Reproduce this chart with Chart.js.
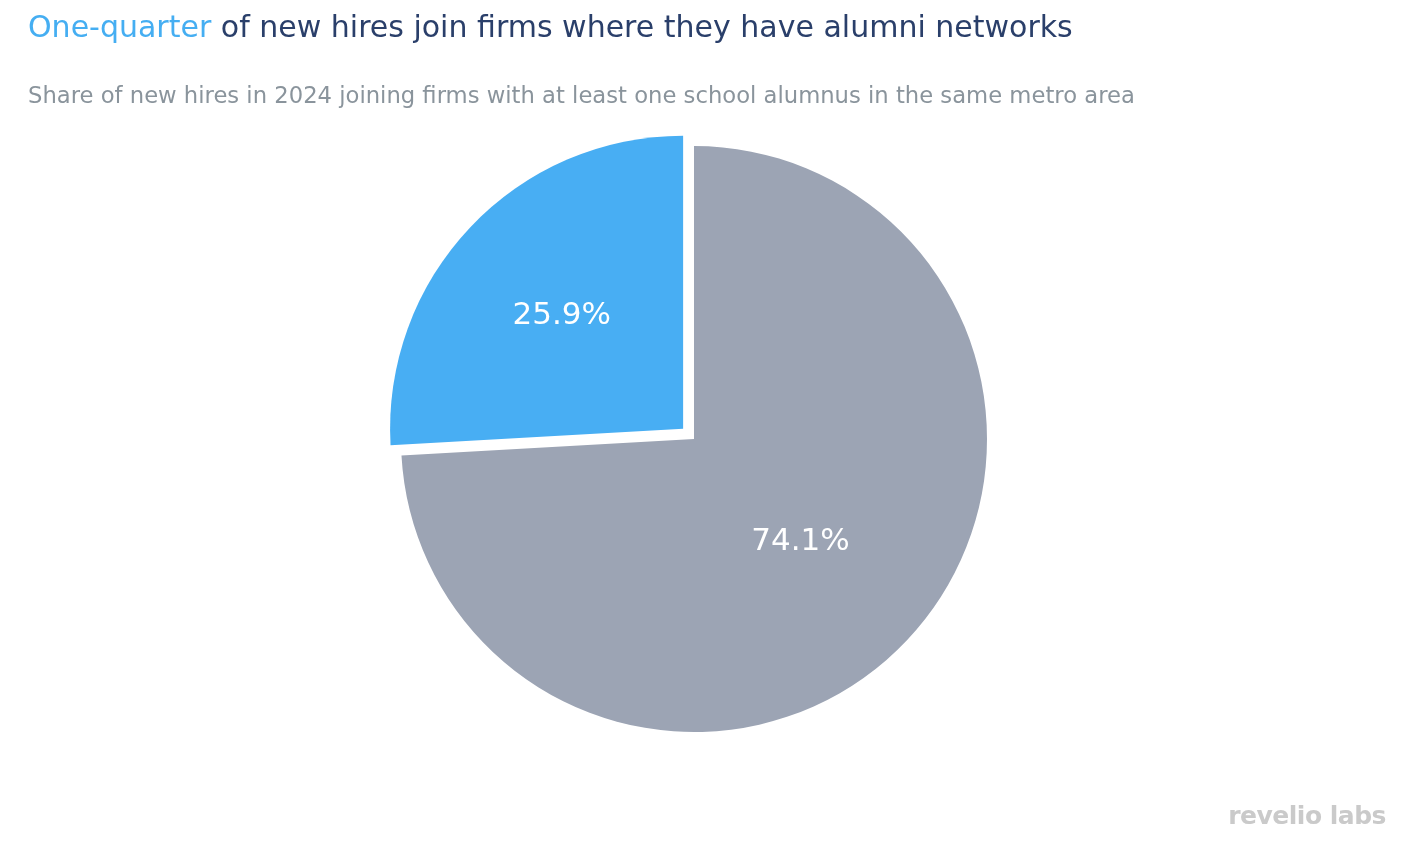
<!DOCTYPE html>
<html>
<head>
<meta charset="utf-8">
<script src="https://cdn.jsdelivr.net/npm/chart.js@4"></script>
<style>
  body { margin: 0; background: #fff; font-family: "DejaVu Sans", sans-serif; }
  #wrap { position: relative; width: 1414px; height: 868px; }
  #title { position: absolute; left: 28px; top: 9px; font-size: 30px; line-height: 35px; color: #2a3f6a; white-space: nowrap; }
  #title .hl { color: #45aef2; }
  #subtitle { position: absolute; left: 28px; top: 82px; font-size: 22.7px; line-height: 27px; color: #8a949c; white-space: nowrap; }
  #logo { position: absolute; right: 28px; bottom: 38px; font-family: "DejaVu Sans", sans-serif; font-weight: bold; font-size: 25px; color: #cacaca; letter-spacing: -0.5px; }
  canvas { position: absolute; left: 0; top: 0; }
</style>
</head>
<body>
<div id="wrap">
  <canvas id="pie" width="1414" height="868"></canvas>
  <div id="title"><span class="hl">One-quarter</span> of new hires join firms where they have alumni networks</div>
  <div id="subtitle">Share of new hires in 2024 joining firms with at least one school alumnus in the same metro area</div>
  <div id="logo">revelio labs</div>
</div>
<script>
// Data
const categories = ['No alumni in metro', 'At least one alumnus in metro'];
const shares = [74.1, 25.9];
const sliceColors = ['#9ca4b4', '#48aef3'];
// Chart.js moves an arc by offset / 4, so 60 pulls the blue slice out ~15px
const sliceOffsets = [0, 60];
const labelRadius = [0.5, 0.57];

// Draw percentage labels inside slices
const sliceLabels = {
    id: 'sliceLabels',
    afterDatasetsDraw(chart) {
        const ctx = chart.ctx;
        const meta = chart.getDatasetMeta(0);
        ctx.save();
        ctx.fillStyle = '#ffffff';
        ctx.font = '31px "DejaVu Sans", sans-serif';
        ctx.textAlign = 'center';
        ctx.textBaseline = 'middle';
        meta.data.forEach((arc, i) => {
            const p = arc.getProps(['x', 'y', 'startAngle', 'endAngle', 'outerRadius']);
            const mid = (p.startAngle + p.endAngle) / 2;
            const r = p.outerRadius * labelRadius[i] + sliceOffsets[i] / 4;
            ctx.fillText(shares[i].toFixed(1) + '%', p.x + Math.cos(mid) * r, p.y + Math.sin(mid) * r + 2);
        });
        ctx.restore();
    }
};

new Chart(document.getElementById('pie').getContext('2d'), {
    type: 'pie',
    data: {
        labels: categories,
        datasets: [{
            data: shares,
            backgroundColor: sliceColors,
            borderWidth: 0,
            offset: sliceOffsets,
            hoverOffset: 0
        }]
    },
    options: {
        responsive: false,
        animation: false,
        layout: { padding: { top: 116, bottom: 106, left: 0, right: 26 } },
        plugins: {
            legend: { display: false },
            tooltip: { enabled: false }
        }
    },
    plugins: [sliceLabels]
});
</script>
</body>
</html>
